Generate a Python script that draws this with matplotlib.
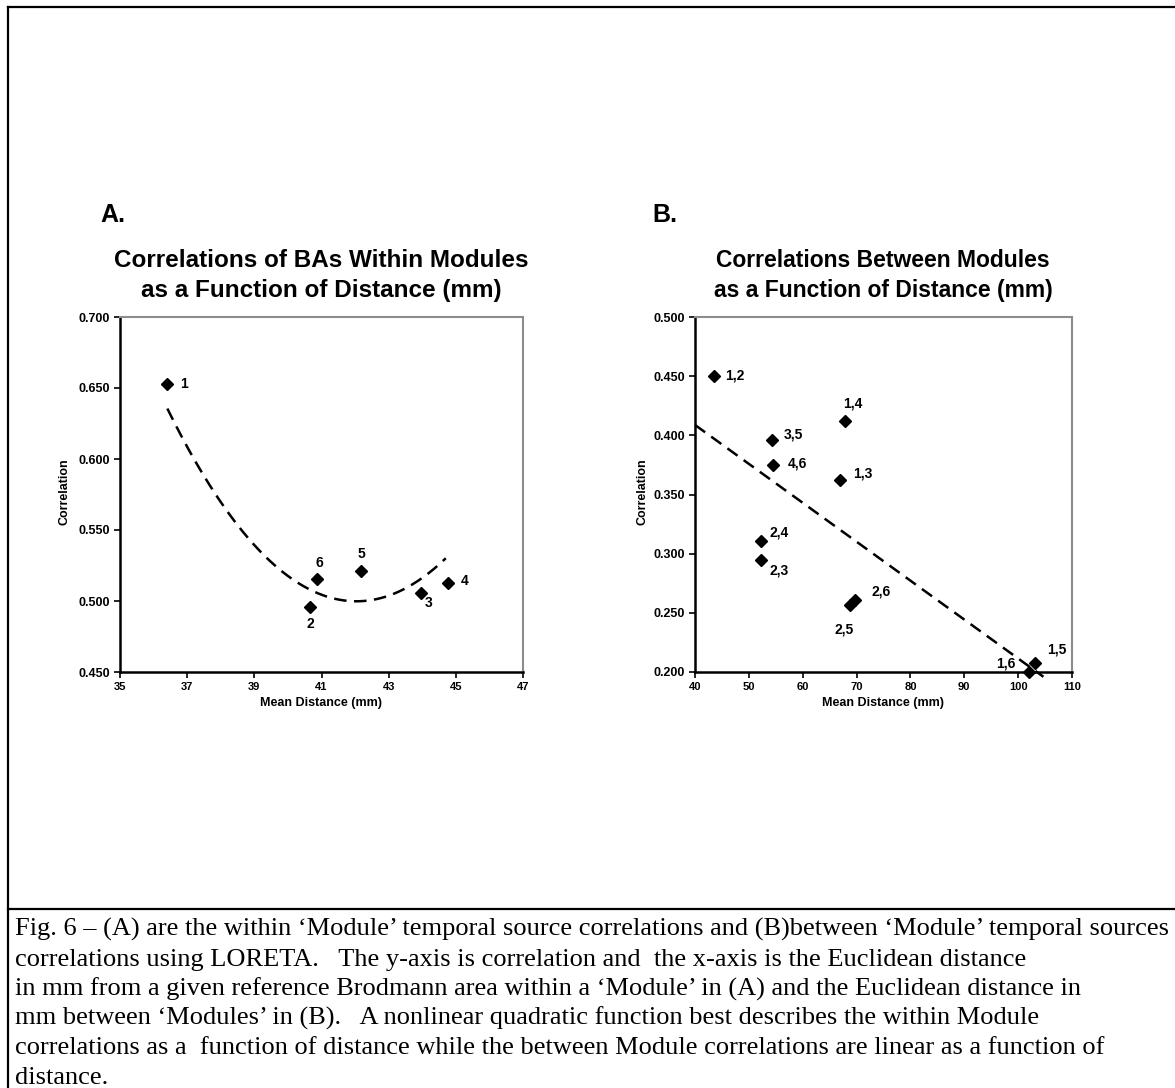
import numpy as np
import matplotlib
matplotlib.use('Agg')
import matplotlib.pyplot as plt
from matplotlib.lines import Line2D

# ---------------- data ----------------
# Panel A: within-module correlations
a_labels = ['1', '2', '3', '4', '5', '6']
a_dist = [36.41, 40.67, 43.96, 44.77, 42.17, 40.88]
a_corr = [0.653, 0.496, 0.5056, 0.5127, 0.5214, 0.5155]
a_xticks = [35, 37, 39, 41, 43, 45, 47]
a_yticks = [0.450, 0.500, 0.550, 0.600, 0.650, 0.700]
# quadratic trend: curvature, vertex x, vertex y
a_trend = (0.004282, 42.04, 0.4998)

# Panel B: between-module correlations
b_labels = ['1,2', '1,3', '1,4', '1,5', '1,6', '2,3', '2,4', '2,5', '2,6', '3,5', '4,6']
b_dist = [43.53, 66.84, 67.84, 103.05, 102.0, 52.28, 52.28, 68.77, 69.76, 54.38, 54.5]
b_corr = [0.4499, 0.362, 0.4118, 0.208, 0.200, 0.2949, 0.3104, 0.2569, 0.2611, 0.3958, 0.3746]
b_xticks = [40, 50, 60, 70, 80, 90, 100, 110]
b_yticks = [0.200, 0.250, 0.300, 0.350, 0.400, 0.450, 0.500]
b_trend_range = [40, 104.7]

caption_lines = [
    "Fig. 6 \u2013 (A) are the within \u2018Module\u2019 temporal source correlations and (B)between \u2018Module\u2019 temporal sources",
    "correlations using LORETA.   The y-axis is correlation and  the x-axis is the Euclidean distance",
    "in mm from a given reference Brodmann area within a \u2018Module\u2019 in (A) and the Euclidean distance in",
    "mm between \u2018Modules\u2019 in (B).   A nonlinear quadratic function best describes the within Module",
    "correlations as a  function of distance while the between Module correlations are linear as a function of",
    "distance.",
]

# label offsets (pixels) relative to the point
a_offsets = {'1': (17, 0), '2': (0, -17), '3': (8, -10), '4': (17, 2), '5': (1, 17), '6': (2, 16)}
b_offsets = {'1,2': (21, 1), '1,4': (8, 18), '3,5': (21, 6), '4,6': (24, 2), '1,3': (23, 7),
             '2,4': (18, 9), '2,3': (18, -11), '2,6': (26, 8), '2,5': (-6, -25),
             '1,5': (22, 13), '1,6': (-23, 9)}

W, H = 1175, 1088
fig = plt.figure(figsize=(W / 100, H / 100), dpi=100)
fig.patch.set_facecolor('white')
SANS = ['Liberation Sans', 'DejaVu Sans']
SERIF = ['Liberation Serif', 'DejaVu Serif']


def fx(px):
    return px / W


def fy(py):
    return 1 - py / H


def style_axes(ax, xticks, yticks, xlim, ylim):
    ax.set_xlim(*xlim)
    ax.set_ylim(*ylim)
    ax.set_xticks(xticks)
    ax.set_yticks(yticks)
    ax.set_yticklabels(['%.3f' % v for v in yticks])
    ax.set_xticklabels([str(v) for v in xticks])
    for lab in ax.get_xticklabels():
        lab.set_fontfamily(SANS)
        lab.set_fontweight('bold')
        lab.set_fontsize(8)
    for lab in ax.get_yticklabels():
        lab.set_fontfamily(SANS)
        lab.set_fontweight('bold')
        lab.set_fontsize(9)
    ax.tick_params(direction='out', length=4, width=1.2, pad=3)
    for s in ['left', 'bottom']:
        ax.spines[s].set_color('black')
        ax.spines[s].set_linewidth(1.8)
    for s in ['top', 'right']:
        ax.spines[s].set_color('#8c8c8c')
        ax.spines[s].set_linewidth(1.5)
    ax.set_facecolor('white')


# ---------------- Panel A ----------------
axA = fig.add_axes([fx(120), fy(672), fx(523) - fx(120), fy(317) - fy(672)])
style_axes(axA, a_xticks, a_yticks, (35, 47), (0.45, 0.70))
xa = np.linspace(min(a_dist), max(a_dist) - 0.07, 200)
k, vx, vy = a_trend
axA.plot(xa, np.polyval([k, 0.0, vy], xa - vx), color='black', lw=1.8, ls=(0, (5, 3)), zorder=2)
axA.plot(a_dist, a_corr, ls='none', marker='D', ms=6.5, color='black', zorder=3)
for lab, x, y in zip(a_labels, a_dist, a_corr):
    dx, dy = a_offsets[lab]
    axA.annotate(lab, (x, y), xytext=(dx, dy), textcoords='offset pixels',
                 ha='center', va='center', fontsize=10, fontweight='bold', family=SANS)

# ---------------- Panel B ----------------
axB = fig.add_axes([fx(695), fy(672), fx(1072) - fx(695), fy(317) - fy(672)])
style_axes(axB, b_xticks, b_yticks, (40, 110), (0.2, 0.5))
coefB = np.polyfit(b_dist, b_corr, 1)
xb = np.linspace(b_trend_range[0], b_trend_range[1], 50)
axB.plot(xb, np.polyval(coefB, xb), color='black', lw=1.8, ls=(0, (5, 3)), zorder=2, clip_on=False)
axB.plot(b_dist, b_corr, ls='none', marker='D', ms=6.5, color='black', zorder=3, clip_on=False)
for lab, x, y in zip(b_labels, b_dist, b_corr):
    dx, dy = b_offsets[lab]
    axB.annotate(lab, (x, y), xytext=(dx, dy), textcoords='offset pixels',
                 ha='center', va='center', fontsize=10, fontweight='bold', family=SANS)

# axis labels
for ax, xc, ylx in [(axA, (120 + 523) / 2, 64), (axB, (695 + 1072) / 2, 642)]:
    fig.text(fx(xc), fy(703), 'Mean Distance (mm)', ha='center', va='center',
             fontsize=9, fontweight='bold', family=SANS)
    fig.text(fx(ylx), fy(492), 'Correlation', ha='center', va='center', rotation=90,
             fontsize=9, fontweight='bold', family=SANS)

# titles
fig.text(fx(321), fy(267), 'Correlations of BAs Within Modules', ha='center', va='baseline',
         fontsize=17.5, fontweight='bold', family=SANS)
fig.text(fx(321), fy(297), 'as a Function of Distance (mm)', ha='center', va='baseline',
         fontsize=17.5, fontweight='bold', family=SANS)
fig.text(fx(883), fy(267), 'Correlations Between Modules', ha='center', va='baseline',
         fontsize=16.5, fontweight='bold', family=SANS)
fig.text(fx(883), fy(297), 'as a Function of Distance (mm)', ha='center', va='baseline',
         fontsize=16.5, fontweight='bold', family=SANS)

# panel letters
fig.text(fx(100), fy(222), 'A.', ha='left', va='baseline', fontsize=18, fontweight='bold', family=SANS)
fig.text(fx(652), fy(222), 'B.', ha='left', va='baseline', fontsize=18, fontweight='bold', family=SANS)

# frame lines
fig.add_artist(Line2D([fx(7.5), 1], [fy(6.5), fy(6.5)], transform=fig.transFigure, color='black', lw=1.6))
fig.add_artist(Line2D([fx(7.5), fx(7.5)], [fy(6.5), 0], transform=fig.transFigure, color='black', lw=1.6))
fig.add_artist(Line2D([fx(7.5), 1], [fy(909), fy(909)], transform=fig.transFigure, color='black', lw=1.6))

# caption
base0, step = 936, 29.6
for i, line in enumerate(caption_lines):
    fig.text(fx(15), fy(base0 + i * step), line, ha='left', va='baseline',
             fontsize=19, family=SERIF)

fig.savefig('out.png', dpi=100, facecolor='white')
